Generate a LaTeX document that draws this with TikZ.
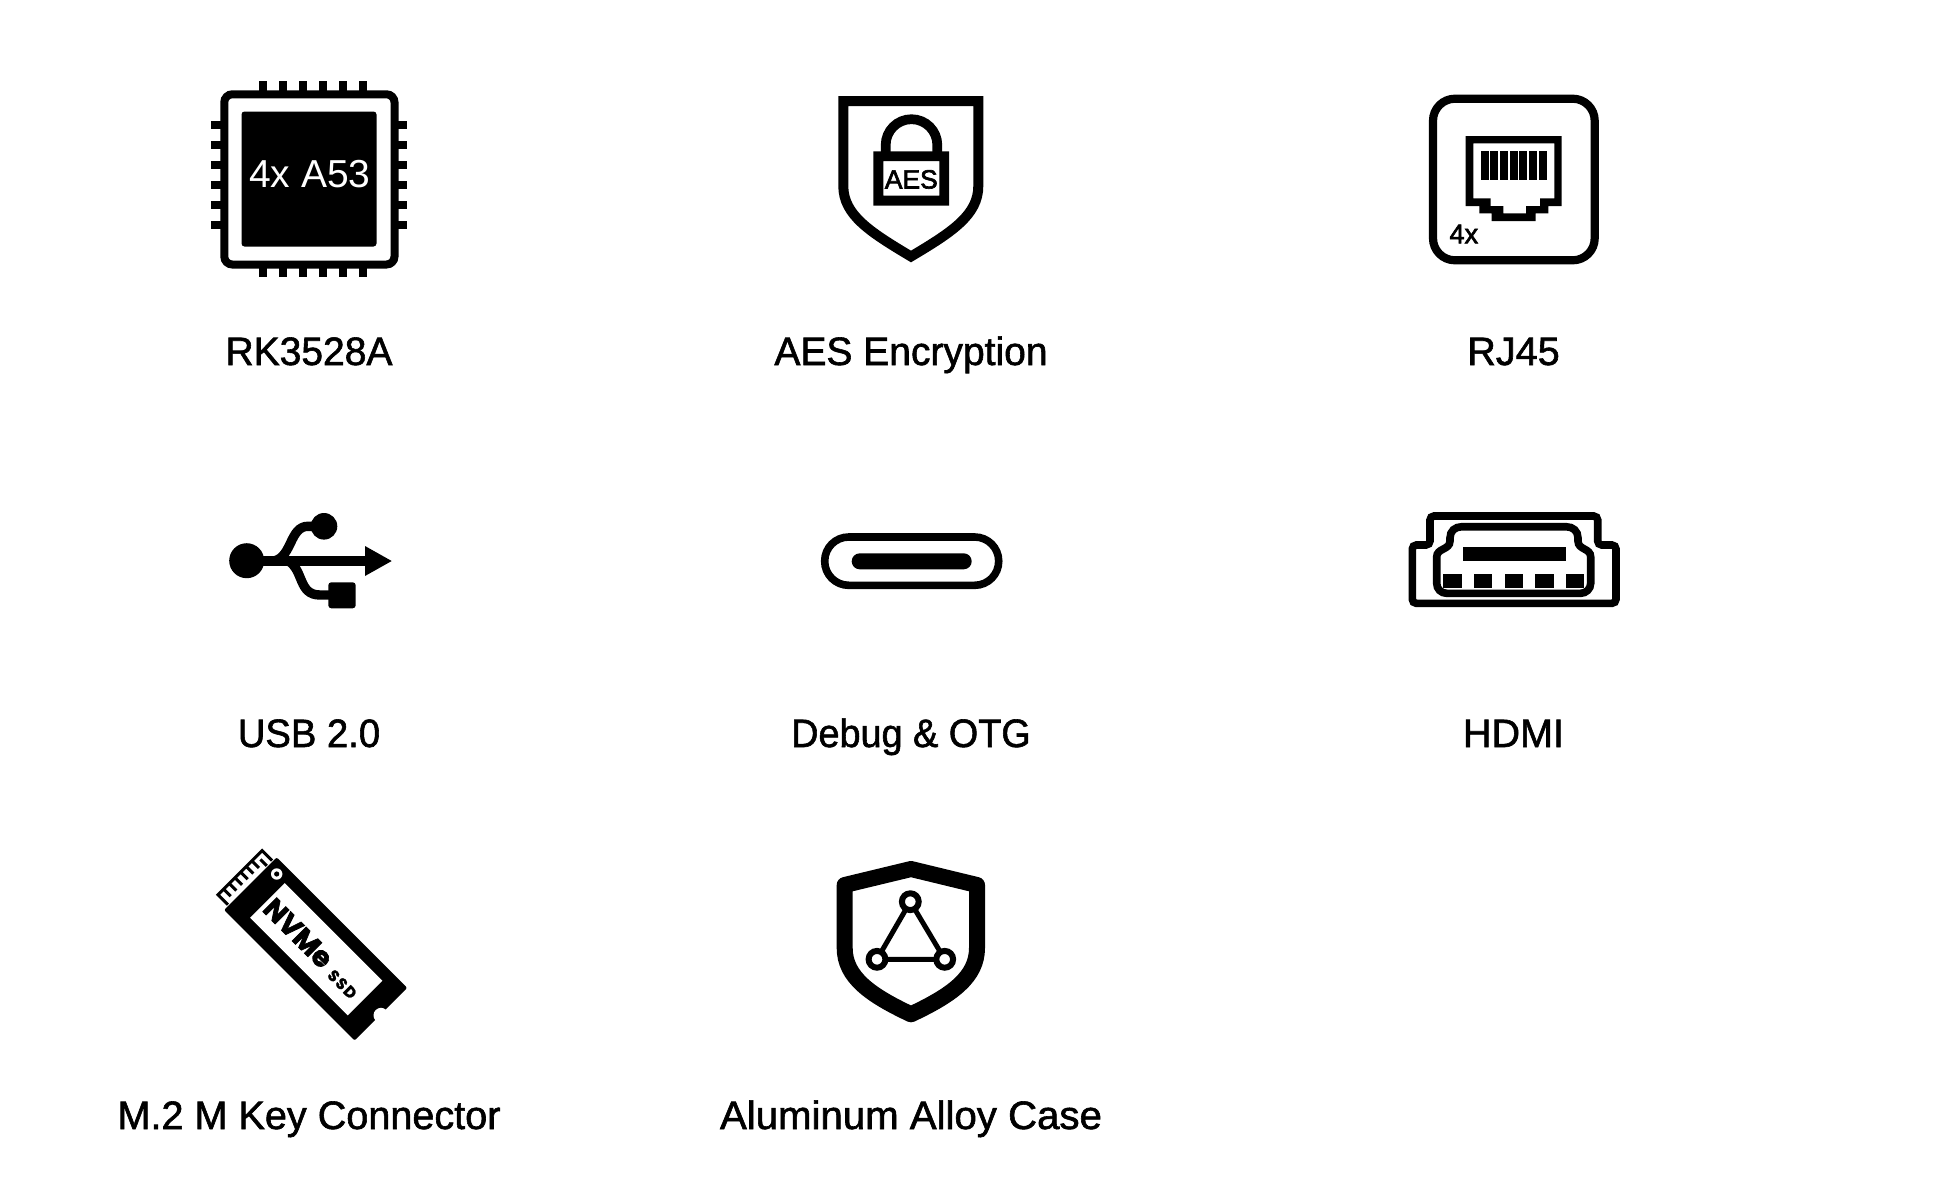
\documentclass[tikz,border=0pt]{standalone}
\usepackage{fontspec}
\setmainfont{Liberation Sans}
\newfontfamily\labfont[FakeBold=1.5]{Liberation Sans}
\newfontfamily\smallfont[FakeBold=2.4]{Liberation Sans}
\newfontfamily\heavyfont[FakeBold=2.6]{Poppins}
\newfontfamily\ssdfont[FakeBold=1.6,LetterSpace=10]{Poppins}
\begin{document}
\begin{tikzpicture}[x=0.5pt,y=-0.5pt,
  px/.style={line width=#1*0.5pt},
  lab/.style={anchor=base,inner sep=0pt,font=\labfont\fontsize{19.8}{22}\selectfont}]
\useasboundingbox[fill=white] (0,0) rectangle (1940,1200);
% ---- chip
\draw[px=8,rounded corners=4pt] (224.3,94.3) rectangle (394.5,264.5);
\fill[rounded corners=1.5pt] (241.5,111.5) rectangle (376.5,246.5);
\foreach \k in {0,...,5}{
  \fill ({259.3+20*\k},81) rectangle ({266.9+20*\k},92);
  \fill ({259.3+20*\k},266) rectangle ({266.9+20*\k},277);
  \fill (211,{121.3+20*\k}) rectangle (222,{128.9+20*\k});
  \fill (396,{121.3+20*\k}) rectangle (407,{128.9+20*\k});
}
\node[anchor=base,inner sep=0pt,text=white,font=\fontsize{19.5}{22}\selectfont] (chiptext) at (310,187) {4x A53};
\node[lab] (l1) at (309,365) {\scalebox{0.985}[1]{RK3528A}};
% ---- AES shield
\draw[px=10,miter limit=6] (843.3,101) -- (978.3,101) -- (978.3,186)
  .. controls (978.3,215) and (952,232) .. (911,256.5)
  .. controls (870,232) and (843.3,215) .. (843.3,186) -- cycle;
\draw[px=9.7] (885.7,153) -- (885.7,145) arc[start angle=180,end angle=360,radius=25.8] -- (937.3,153);
\fill[even odd rule] (873.3,151.3) rectangle (949,205.7) (883.3,161) rectangle (939.3,195.7);
\node[anchor=base,inner sep=0pt,font=\smallfont\fontsize{13.2}{15}\selectfont] (aes) at (911.3,188.5) {AES};
\node[lab] (l2) at (911,365) {\scalebox{0.985}[1]{AES Encryption}};
% ---- RJ45
\draw[px=8.2,rounded corners=11pt] (1433,98.7) rectangle (1594.7,260.3);
\fill[even odd rule] (1465.7,136) -- (1561.7,136) -- (1561.7,206) -- (1548.3,206) -- (1548.3,213.3) -- (1535.7,213.3) -- (1535.7,221) -- (1491.7,221) -- (1491.7,213.3) -- (1479.3,213.3) -- (1479.3,206) -- (1465.7,206) -- cycle
 (1473.3,143.3) -- (1554.3,143.3) -- (1554.3,198.3) -- (1540,198.3) -- (1540,206) -- (1526,206) -- (1526,213.3) -- (1503.3,213.3) -- (1503.3,206) -- (1490.7,206) -- (1490.7,198.3) -- (1473.3,198.3) -- cycle;
\foreach \k in {0,...,6}
  \fill ({1480.7+9.67*\k},151) rectangle ({1488.7+9.67*\k},180);
\node[anchor=base,inner sep=0pt,font=\smallfont\fontsize{13.6}{15}\selectfont] (four) at (1463.8,243.3) {4x};
\node[lab] (l3) at (1513.5,365) {RJ45};
% ---- USB
\fill (246.7,560.7) circle[radius=17.5];
\fill (324,526.3) circle[radius=13.3];
\draw[px=10] (246.7,560.7) -- (366,560.7);
\fill (365,546) -- (391.7,561) -- (365,576) -- cycle;
\draw[px=9.4] (275,560.7) .. controls (292,556) and (290,526.3) .. (308,526.3) -- (322,526.3);
\draw[px=9.4] (288,560.7) .. controls (304,570) and (298,595) .. (320,595) -- (332,595);
\fill[rounded corners=1.5pt] (328.3,582.3) rectangle (355.7,608.3);
\node[lab] (l4) at (309,747) {\scalebox{0.965}[1]{USB 2.0}};
% ---- Debug
\draw[px=7.6,rounded corners=12pt] (824.7,537) rectangle (998.7,585.3);
\fill[rounded corners=4pt] (851.7,553.3) rectangle (971.7,569.3);
\node[lab] (l5) at (911,747) {\scalebox{0.955}[1]{Debug \& OTG}};
% ---- HDMI
\draw[px=7.6,rounded corners=2pt] (1412.3,603.3) -- (1412.3,545) -- (1430,545) -- (1430,516) -- (1597.7,516) -- (1597.7,545) -- (1616,545) -- (1616,603.3) -- cycle;
\draw[px=7.6] (1446.7,593.3) .. controls (1441,593.3) and (1436.7,589) .. (1436.7,583.3) -- (1436.7,557)
  .. controls (1436.7,548) and (1450,550) .. (1450,541) -- (1450,538)
  .. controls (1450,531) and (1455,526.7) .. (1462,526.7) -- (1566,526.7)
  .. controls (1573,526.7) and (1578,531) .. (1578,538) -- (1578,541)
  .. controls (1578,550) and (1590.7,548) .. (1590.7,557) -- (1590.7,583.3)
  .. controls (1590.7,589) and (1586,593.3) .. (1580.7,593.3) -- cycle;
\fill (1463.3,547) rectangle (1565.7,560.7);
\foreach \k in {0,...,4}
  \fill ({1443.3+30.7*\k},574.3) rectangle ({1461.6+30.7*\k},588.3);
\node[lab] (l6) at (1513.5,747) {HDMI};
% ---- NVMe
\begin{scope}[shift={(276.7,857.3)},rotate=-45]
  \fill[rounded corners=1pt] (0,0) -- (184.7,0) -- (184.7,74.5) -- (0,74.5) -- cycle;
  \fill[white] (24,12.5) rectangle (162,61.5);
  \fill[white] (11.8,11.8) circle[radius=5.7];
  \fill (11.8,11.8) circle[radius=2.6];
  \fill[white] (185.5,38) circle[radius=7.5];
  \draw[px=3,fill=white] (-1,5.5) -- (-15,5.5) -- (-15,68) -- (-1,68);
  \foreach \v in {60,52,44,36,28}
    \draw[px=3] (-15,\v) -- (-5,\v);
  \draw[px=3] (-15,20) -- (-5,20);
  \draw[px=3] (-1,13) -- (-10,13);
\end{scope}
\node[anchor=center,inner sep=0pt,rotate=-45,font=\heavyfont\bfseries\fontsize{14}{16}\selectfont] (nvme) at (298.3,933.3) {NVMe};
\node[anchor=center,inner sep=0pt,rotate=-45,font=\ssdfont\bfseries\fontsize{7.8}{9}\selectfont] (ssd) at (342.3,984.3) {SSD};
\node[lab] (l7) at (309,1129) {M.2 M Key Connector};
% ---- Aluminium shield
\draw[px=16,line join=round] (911,869) -- (977,885) -- (977,948)
  .. controls (977,977) and (952,995) .. (911,1014.3)
  .. controls (870,995) and (844.7,977) .. (844.7,948) -- (844.7,885) -- cycle;
\draw[px=5] (910.3,901.7) -- (877,959.3) -- (944.7,959.3) -- cycle;
\foreach \p in {(910.3,901.7),(877,959.3),(944.7,959.3)}
  \draw[px=6,fill=white] \p circle[radius=8.4];
\node[lab] (l8) at (911,1129) {\scalebox{1.015}[1]{Aluminum Alloy Case}};
\end{tikzpicture}
\end{document}
